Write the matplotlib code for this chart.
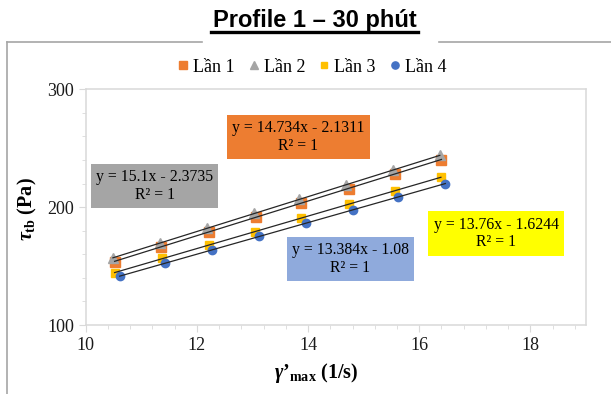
import numpy as np
import matplotlib
matplotlib.use("Agg")
import matplotlib.pyplot as plt
from matplotlib.lines import Line2D

# số liệu
lan1_x = [10.52, 11.36, 12.22, 13.06, 13.88, 14.74, 15.56, 16.40]
lan1_y = [153.8, 166.5, 179.2, 191.3, 203.6, 215.8, 228.4, 240.3]
lan2_x = [10.49, 11.33, 12.19, 13.02, 13.84, 14.69, 15.53, 16.37]
lan2_y = [157.2, 169.4, 182.0, 194.7, 206.5, 218.6, 231.2, 244.5]
lan3_x = [10.52, 11.37, 12.21, 13.05, 13.88, 14.74, 15.56, 16.39]
lan3_y = [144.0, 156.7, 167.9, 179.2, 191.0, 202.5, 213.5, 225.6]
lan4_x = [10.61, 11.43, 12.27, 13.11, 13.96, 14.81, 15.62, 16.47]
lan4_y = [141.2, 152.5, 163.7, 175.5, 186.2, 197.5, 208.7, 220.0]

ten = ["Lần 1", "Lần 2", "Lần 3", "Lần 4"]
pt = ["y = 14.734x - 2.1311\nR² = 1", "y = 15.1x - 2.3735\nR² = 1",
      "y = 13.76x - 1.6244\nR² = 1", "y = 13.384x - 1.08\nR² = 1"]

mau = ["#ED7D31", "#A5A5A5", "#FFC000", "#4472C4"]
marker = ["s", "^", "s", "o"]
ms = [7, 7, 5.5, 6]

plt.rcParams["font.family"] = ["Liberation Serif", "DejaVu Serif"]
plt.rcParams["mathtext.fontset"] = "custom"
plt.rcParams["mathtext.rm"] = "Liberation Serif:bold"
plt.rcParams["mathtext.it"] = "Liberation Serif:italic:bold"
plt.rcParams["mathtext.bf"] = "Liberation Serif:bold"

W, H = 611, 394
fig = plt.figure(figsize=(W / 100, H / 100), dpi=100)
ax = fig.add_axes([85.7 / W, 1 - 325 / H, (586 - 85.7) / W, (325 - 89.3) / H])

xs = [lan1_x, lan2_x, lan3_x, lan4_x]
ys = [lan1_y, lan2_y, lan3_y, lan4_y]
for i in range(4):
    ax.plot(xs[i], ys[i], ls="none", marker=marker[i], ms=ms[i], color=mau[i],
            mec=mau[i], zorder=3 + i)
for i in range(4):
    x = np.array(xs[i])
    k, b = np.polyfit(x, ys[i], 1)
    xx = np.array([x.min(), x.max()])
    ax.plot(xx, k * xx + b, color="#262626", lw=0.9, zorder=10)

ax.set_xlim(10, 19)
ax.set_ylim(100, 300)
ax.set_xticks([10, 12, 14, 16, 18])
ax.set_xticks(np.arange(10, 19.01, 0.4), minor=True)
ax.set_yticks([100, 200, 300])
ax.set_yticks(np.arange(100, 301, 20), minor=True)
for s in ax.spines.values():
    s.set_color("#D9D9D9")
    s.set_linewidth(1.1)
ax.tick_params(which="both", color="#D9D9D9", labelsize=13, labelcolor="#1a1a1a")
ax.tick_params(which="major", length=5)
ax.tick_params(which="minor", length=3)

# hộp phương trình
hop = [(298.5, 137.3, "#ED7D31"), (154.7, 186.0, "#A5A5A5"),
       (496.0, 233.5, "#FFFF00"), (350.5, 258.7, "#8FAADC")]
for i in range(4):
    cx, cy, c = hop[i]
    fig.text(cx / W, 1 - cy / H, pt[i], ha="center", va="center", ma="center",
             fontsize=11.3, linespacing=1.15, zorder=20,
             bbox=dict(boxstyle="square,pad=0.33", fc=c, ec="none"))

fig.text(27 / W, 1 - 209 / H, r"$\tau_{\mathrm{tb}}$ (Pa)", rotation=90, ha="center",
         va="center", fontsize=14.5, fontweight="bold")
fig.text(316 / W, 1 - 373 / H, r"$\gamma$’$_{\mathrm{max}}$ (1/s)", ha="center",
         va="center", fontsize=14.5, fontweight="bold")

# chú giải
h = [Line2D([], [], ls="none", marker=marker[i], ms=ms[i] - 0.8, color=mau[i]) for i in range(4)]
fig.legend(h, ten, loc="center", bbox_to_anchor=(312 / W, 1 - 67 / H), ncol=4,
           frameon=False, fontsize=13, handlelength=0.6, handletextpad=0.25,
           columnspacing=0.75, borderaxespad=0)

# khung biểu đồ
for xx, yy in [([6.7, 6.7], [H, 42.3]), ([6.7, 201.7], [42.3, 42.3]), ([439, W], [42.3, 42.3])]:
    fig.add_artist(Line2D([v / W for v in xx], [1 - v / H for v in yy], color="#A6A6A6", lw=1.2))

# tiêu đề
fig.text(314.5 / W, 1 - 27 / H, "Profile 1 – 30 phút", ha="center", va="baseline",
         fontsize=17, fontweight="bold", family=["Liberation Sans", "DejaVu Sans"])
fig.add_artist(Line2D([211 / W, 418 / W], [1 - 31.7 / H] * 2, color="black", lw=2.4))

fig.savefig("out.png", dpi=100)
